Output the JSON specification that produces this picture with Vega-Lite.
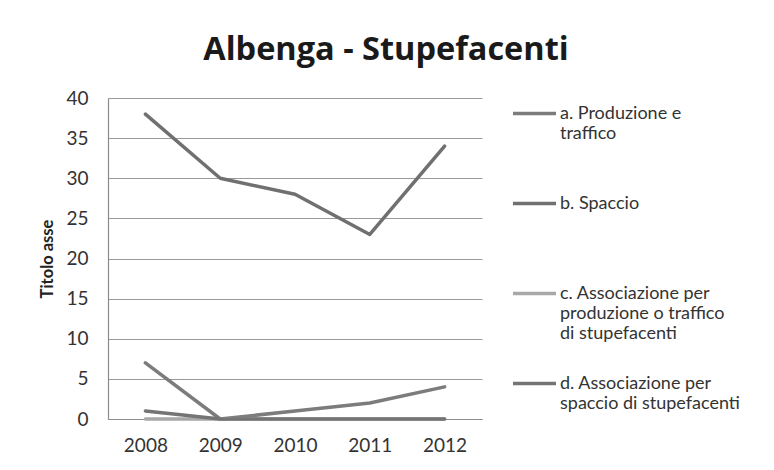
{
  "$schema": "https://vega.github.io/schema/vega-lite/v6.json",
  "width": 374,
  "height": 321,
  "padding": {"left": 39, "top": 33, "right": 25, "bottom": 5},
  "background": "white",
  "title": {
    "text": "Albenga - Stupefacenti",
    "font": "Open Sans",
    "fontSize": 32.5,
    "fontWeight": "bold",
    "color": "#1a1a1a",
    "anchor": "middle",
    "frame": "bounds",
    "offset": 23
  },
  "data": {
    "values": [
      {"anno": "2008", "serie": "a. Produzione e traffico", "valore": 7},
      {"anno": "2009", "serie": "a. Produzione e traffico", "valore": 0},
      {"anno": "2010", "serie": "a. Produzione e traffico", "valore": 1},
      {"anno": "2011", "serie": "a. Produzione e traffico", "valore": 2},
      {"anno": "2012", "serie": "a. Produzione e traffico", "valore": 4},
      {"anno": "2008", "serie": "b. Spaccio", "valore": 38},
      {"anno": "2009", "serie": "b. Spaccio", "valore": 30},
      {"anno": "2010", "serie": "b. Spaccio", "valore": 28},
      {"anno": "2011", "serie": "b. Spaccio", "valore": 23},
      {"anno": "2012", "serie": "b. Spaccio", "valore": 34},
      {"anno": "2008", "serie": "c. Associazione per produzione o traffico di stupefacenti", "valore": 0},
      {"anno": "2009", "serie": "c. Associazione per produzione o traffico di stupefacenti", "valore": 0},
      {"anno": "2010", "serie": "c. Associazione per produzione o traffico di stupefacenti", "valore": 0},
      {"anno": "2011", "serie": "c. Associazione per produzione o traffico di stupefacenti", "valore": 0},
      {"anno": "2012", "serie": "c. Associazione per produzione o traffico di stupefacenti", "valore": 0},
      {"anno": "2008", "serie": "d. Associazione per spaccio di stupefacenti", "valore": 1},
      {"anno": "2009", "serie": "d. Associazione per spaccio di stupefacenti", "valore": 0},
      {"anno": "2010", "serie": "d. Associazione per spaccio di stupefacenti", "valore": 0},
      {"anno": "2011", "serie": "d. Associazione per spaccio di stupefacenti", "valore": 0},
      {"anno": "2012", "serie": "d. Associazione per spaccio di stupefacenti", "valore": 0}
    ]
  },
  "mark": {"type": "line", "strokeWidth": 3.5, "strokeCap": "round", "strokeJoin": "round"},
  "encoding": {
    "x": {
      "field": "anno",
      "type": "ordinal",
      "scale": {"type": "point", "padding": 0.5},
      "axis": {
        "title": null,
        "labelAngle": 0,
        "labelFont": "Lato",
        "labelFontSize": 19,
        "labelColor": "#333333",
        "labelPadding": 17,
        "ticks": false,
        "domainColor": "#8c8c8c",
        "domainWidth": 1.2,
        "grid": false
      }
    },
    "y": {
      "field": "valore",
      "type": "quantitative",
      "scale": {"domain": [0, 40], "nice": false},
      "axis": {
        "title": "Titolo asse",
        "titleFont": "Lato",
        "titleFontSize": 16.5,
        "titleFontWeight": "bold",
        "titleColor": "#222222",
        "titlePadding": 10,
        "values": [0, 5, 10, 15, 20, 25, 30, 35, 40],
        "labelFont": "Lato",
        "labelFontSize": 19,
        "labelColor": "#333333",
        "labelPadding": 20,
        "ticks": false,
        "domainColor": "#8c8c8c",
        "domainWidth": 1.2,
        "gridColor": "#9a9a9a",
        "gridWidth": 1.2
      }
    },
    "color": {
      "field": "serie",
      "type": "nominal",
      "scale": {
        "domain": [
          "a. Produzione e traffico",
          "b. Spaccio",
          "c. Associazione per produzione o traffico di stupefacenti",
          "d. Associazione per spaccio di stupefacenti"
        ],
        "range": ["#7c7c7c", "#707070", "#a8a8a8", "#747474"]
      },
      "legend": {
        "title": null,
        "offset": 37,
        "padding": -8,
        "symbolType": "stroke",
        "symbolSize": 1850,
        "symbolStrokeWidth": 3.5,
        "labelFont": "Lato",
        "labelFontSize": 18,
        "labelColor": "#333333",
        "labelLimit": 300,
        "labelBaseline": "middle",
        "rowPadding": 17,
        "labelOffset": 2,
        "labelExpr": "datum.label == 'a. Produzione e traffico' ? ['a. Produzione e', 'traffico', ''] : datum.label == 'b. Spaccio' ? ['b. Spaccio', '', ''] : datum.label == 'd. Associazione per spaccio di stupefacenti' ? ['d. Associazione per', 'spaccio di stupefacenti'] : ['c. Associazione per', 'produzione o traffico', 'di stupefacenti']"
      }
    }
  },
  "config": {
    "view": {"stroke": null},
    "font": "Lato"
  }
}
